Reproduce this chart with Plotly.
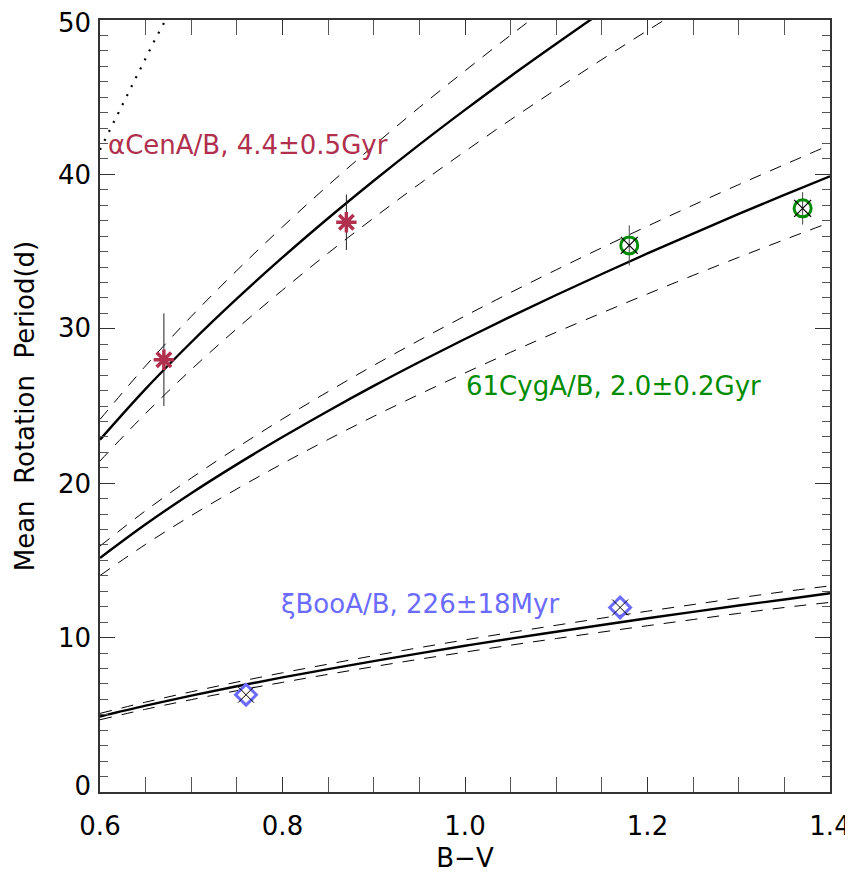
import plotly.graph_objects as go

# ---- data ----
BV = [0.60, 0.65, 0.70, 0.75, 0.80, 0.85, 0.90, 0.95, 1.00, 1.05, 1.10,
      1.15, 1.20, 1.25, 1.30, 1.35, 1.40]

# alpha Cen (4.4 +/- 0.5 Gyr) curves
acen_mid = [22.82, 26.11, 29.13, 31.95, 34.62, 37.16, 39.59, 41.93, 44.18,
            46.36, 48.46, 50.52, 52.51]
acen_hi = [24.13, 27.60, 30.80, 33.78, 36.60, 39.29, 41.86, 44.34, 46.71,
           49.02, 51.24]
acen_lo = [21.44, 24.52, 27.36, 30.01, 32.51, 34.90, 37.18, 39.38, 41.49,
           43.54, 45.51, 47.44, 49.32, 51.15]

# 61 Cyg (2.0 +/- 0.2 Gyr) curves
cyg_mid = [15.16, 17.34, 19.35, 21.22, 22.99, 24.68, 26.30, 27.85, 29.34,
           30.79, 32.19, 33.55, 34.88, 36.17, 37.44, 38.67, 39.88]
cyg_hi = [15.93, 18.22, 20.33, 22.30, 24.16, 25.93, 27.63, 29.26, 30.83,
          32.35, 33.82, 35.25, 36.65, 38.01, 39.34, 40.63, 41.91]
cyg_lo = [14.02, 16.04, 17.90, 19.63, 21.27, 22.83, 24.33, 25.76, 27.14,
          28.48, 29.78, 31.03, 32.26, 33.46, 34.63, 35.77, 36.89]

# xi Boo (226 +/- 18 Myr) curves
boo_mid = [4.89, 5.59, 6.24, 6.85, 7.42, 7.96, 8.48, 8.98, 9.47, 9.93, 10.38,
           10.82, 11.25, 11.67, 12.08, 12.47, 12.87]
boo_hi = [5.09, 5.82, 6.49, 7.12, 7.72, 8.28, 8.83, 9.35, 9.85, 10.33, 10.80,
          11.26, 11.71, 12.14, 12.57, 12.98, 13.35]
boo_lo = [4.68, 5.36, 5.98, 6.56, 7.10, 7.62, 8.12, 8.60, 9.06, 9.51, 9.94,
          10.36, 10.77, 11.17, 11.57, 11.95, 12.28]

# dotted limit curve (top left)
dot_bv = [0.60, 0.62, 0.64, 0.66, 0.68]
dot_p = [41.6, 44.0, 46.4, 48.7, 50.9]

# stars
acen_bv = [0.67, 0.87]
acen_p = [28.0, 36.9]
acen_err = [3.0, 1.8]
cyg_bv = [1.18, 1.37]
cyg_p = [35.4, 37.8]
cyg_err = [1.3, 1.05]
boo_bv = [0.76, 1.17]
boo_p = [6.3, 11.95]

x_ticks = [0.6, 0.8, 1.0, 1.2, 1.4]
y_ticks = [0, 10, 20, 30, 40, 50]
y_label_pos = [0.42, 9.95, 19.95, 30.05, 40.0, 49.8]
y_label_txt = ["0", "10", "20", "30", "40", "50"]

C_ACEN = "#B0304E"
C_CYG = "#008C00"
C_BOO = "#6B6BFF"
FONT = "DejaVu Sans"
FS = 26

fig = go.Figure()


def curve(xs, ys, dash, width):
    fig.add_trace(go.Scatter(
        x=xs[:len(ys)], y=ys, mode="lines",
        line=dict(color="black", width=width, dash=dash, shape="spline"),
        showlegend=False, hoverinfo="skip"))


DASH = "12px,10px"
for mid, hi, lo in [(acen_mid, acen_hi, acen_lo),
                    (cyg_mid, cyg_hi, cyg_lo),
                    (boo_mid, boo_hi, boo_lo)]:
    curve(BV, hi, DASH, 1)
    curve(BV, lo, DASH, 1)
    curve(BV, mid, "solid", 2.4)

fig.add_trace(go.Scatter(x=dot_bv, y=dot_p, mode="lines",
                         line=dict(color="black", width=2.2, dash="2px,8px"),
                         showlegend=False, hoverinfo="skip"))

# alpha Cen points
fig.add_trace(go.Scatter(
    x=acen_bv, y=acen_p, mode="markers",
    error_y=dict(type="data", array=acen_err, color="#222", thickness=1, width=0),
    marker=dict(symbol="asterisk-open", size=17, color=C_ACEN,
                line=dict(color=C_ACEN, width=3.5)),
    showlegend=False))

# 61 Cyg points
fig.add_trace(go.Scatter(
    x=cyg_bv, y=cyg_p, mode="markers",
    error_y=dict(type="data", array=cyg_err, color="#444", thickness=1, width=0),
    marker=dict(symbol="circle-open", size=17, color=C_CYG,
                line=dict(color=C_CYG, width=3)),
    showlegend=False))
fig.add_trace(go.Scatter(
    x=cyg_bv, y=cyg_p, mode="markers",
    marker=dict(symbol="x-thin-open", size=17, color="black",
                line=dict(color="black", width=1.2)),
    showlegend=False))

# xi Boo points
fig.add_trace(go.Scatter(
    x=boo_bv, y=boo_p, mode="markers",
    marker=dict(symbol="diamond-open", size=16, color=C_BOO,
                line=dict(color=C_BOO, width=3)),
    showlegend=False))
fig.add_trace(go.Scatter(
    x=boo_bv, y=boo_p, mode="markers",
    marker=dict(symbol="x-thin-open", size=16, color="black",
                line=dict(color="black", width=1)),
    showlegend=False))

# empty trace so that the label axis (y2) is drawn
fig.add_trace(go.Scatter(x=[], y=[], yaxis="y2", mode="markers",
                         showlegend=False, hoverinfo="skip"))

# labels
fig.add_annotation(x=0.6066, y=41.88, xref="x", yref="y", text="αCenA/B, 4.4±0.5Gyr",
                   showarrow=False, xanchor="left", yanchor="middle", align="left",
                   font=dict(family=FONT, size=FS, color=C_ACEN))
fig.add_annotation(x=0.9987, y=26.27, xref="x", yref="y", text="61CygA/B, 2.0±0.2Gyr",
                   showarrow=False, xanchor="left", yanchor="middle", align="left",
                   font=dict(family=FONT, size=FS, color=C_CYG))
fig.add_annotation(x=0.796, y=12.15, xref="x", yref="y", text="ξBooA/B, 226±18Myr",
                   showarrow=False, xanchor="left", yanchor="middle", align="left",
                   font=dict(family=FONT, size=FS, color=C_BOO))

AX = "#333"
fig.update_layout(
    width=845, height=865,
    margin=dict(l=92, r=23, t=0, b=81),
    paper_bgcolor="white", plot_bgcolor="white",
    font=dict(family=FONT, size=FS, color="black"),
    xaxis=dict(range=[0.6, 1.4], tickvals=x_ticks, ticktext=[f"{v:.1f}" for v in x_ticks],
               ticks="inside", ticklen=15, tickwidth=1.2, tickcolor=AX,
               minor=dict(dtick=0.05, tick0=0.6, ticks="inside", ticklen=8,
                          tickwidth=1, tickcolor="#555"),
               showline=True, linecolor=AX, linewidth=1.5, mirror="allticks",
               showgrid=False, zeroline=False, ticklabelstandoff=10,
               ticklabeloverflow="allow", tickfont=dict(size=FS),
               title=dict(text="B−V", font=dict(size=FS), standoff=9)),
    yaxis=dict(range=[0, 50], tickvals=y_ticks, showticklabels=False,
               ticks="inside", ticklen=15, tickwidth=1.2, tickcolor=AX,
               minor=dict(dtick=1, tick0=0, ticks="inside", ticklen=8,
                          tickwidth=1, tickcolor="#555"),
               showline=True, linecolor=AX, linewidth=1.5, mirror="allticks",
               showgrid=False, zeroline=False),
    yaxis2=dict(range=[0, 50], overlaying="y", side="left", tickvals=y_label_pos,
                ticktext=y_label_txt, ticks="", showline=False, showgrid=False,
                zeroline=False, ticklabelstandoff=8, ticklabeloverflow="allow",
                tickfont=dict(size=FS),
                title=dict(text="Mean  Rotation  Period(d)", font=dict(size=FS),
                           standoff=15)),
)

fig.write_html("out.html")
